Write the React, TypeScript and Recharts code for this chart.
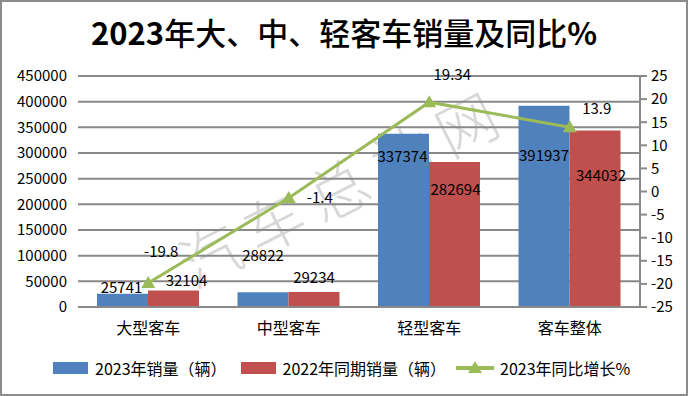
import React from "react";
import { ComposedChart, Bar, Line, XAxis, YAxis, CartesianGrid, Legend, LabelList } from "recharts";

const FONT = '"Noto Sans CJK SC", "Noto Sans", sans-serif';

const categories = ["大型客车", "中型客车", "轻型客车", "客车整体"];
const sales2023 = [25741, 28822, 337374, 391937];
const sales2022 = [32104, 29234, 282694, 344032];
const growthPct = [-19.8, -1.4, 19.34, 13.9];
const leftTicks = [0, 50000, 100000, 150000, 200000, 250000, 300000, 350000, 400000, 450000];
const rightTicks = [-25, -20, -15, -10, -5, 0, 5, 10, 15, 20, 25];
const seriesNames = ["2023年销量（辆）", "2022年同期销量（辆）", "2023年同比增长%"];

const BLUE = "#4F81BD";
const RED = "#C0504D";
const GREEN = "#9BBB59";
const GRID = "#898989";

// data labels were dragged around in the original, so nudge each one
const blueShift = [[-1, -6], [0, -36], [-1, 23], [0, 50]];
const redShift = [[13, -10], [0, -14], [1, 28], [6, 45]];
const lineShift = [[13, -31], [31, 0], [23, -27], [27, -19]];

const data = categories.map((name, i) => ({
  name,
  s2023: sales2023[i],
  s2022: sales2022[i],
  pct: growthPct[i],
}));

const makeLabel = (shift: number[][], isBar: boolean) => (props: any) => {
  const { x, y, width, value, index } = props;
  const [dx, dy] = shift[index] || [0, 0];
  const cx = Number(x) + (isBar ? Number(width) / 2 : 0) + dx;
  const cy = Number(y) + dy;
  return (
    <text x={cx} y={cy} dy="0.35em" textAnchor="middle" fontSize={15} fill="#000" fontFamily={FONT}>
      {value}
    </text>
  );
};

const Triangle = (props: any) => {
  const { cx, cy } = props;
  if (cx == null || cy == null) return null;
  return <polygon points={`${cx},${cy - 7} ${cx + 7},${cy + 5} ${cx - 7},${cy + 5}`} fill={GREEN} />;
};

const renderLegend = () => (
  <div style={{ display: "flex", alignItems: "center", height: 20, paddingLeft: 53, fontFamily: FONT, fontSize: 16, color: "#000" }}>
    <span style={{ width: 35, height: 12, background: BLUE, marginRight: 7 }} />
    <span style={{ marginRight: 14 }}>{seriesNames[0]}</span>
    <span style={{ width: 35, height: 12, background: RED, marginRight: 7 }} />
    <span style={{ marginRight: 10 }}>{seriesNames[1]}</span>
    <svg width={38} height={14} style={{ marginRight: 6 }}>
      <line x1={0} y1={7} x2={38} y2={7} stroke={GREEN} strokeWidth={4} />
      <polygon points="19,0 26,12 12,12" fill={GREEN} />
    </svg>
    <span>{seriesNames[2]}</span>
  </div>
);

export default function App() {
  return (
    <div style={{ position: "fixed", left: 0, top: 0, width: 688, height: 396, background: "#fff", overflow: "hidden" }}>
      <div
        style={{
          position: "absolute",
          left: 342,
          top: 184,
          transform: "translate(-50%, -50%) rotate(-27deg)",
          fontFamily: FONT,
          fontSize: 60,
          fontWeight: 300,
          letterSpacing: 12,
          color: "#d8d8d8",
          whiteSpace: "nowrap",
        }}
      >
        汽车总站网
      </div>
      <div
        style={{
          position: "absolute",
          left: 0,
          top: 12,
          width: 688,
          height: 40,
          lineHeight: "40px",
          textAlign: "center",
          fontFamily: FONT,
          fontSize: 31,
          fontWeight: 500,
          color: "#000",
          zIndex: 2,
        }}
      >
        <span style={{ fontWeight: 700 }}>2023</span>年大、中、轻客车销量及同比<span style={{ fontWeight: 700 }}>%</span>
      </div>
      <div style={{ position: "absolute", left: 0, top: 0, zIndex: 1 }}>
        <ComposedChart width={688} height={396} data={data} margin={{ top: 76, right: 0, left: 8, bottom: 59 }} barGap={0}>
          <CartesianGrid yAxisId="left" vertical={false} stroke={GRID} strokeWidth={2} />
          <XAxis
            dataKey="name"
            height={30}
            axisLine={{ stroke: GRID, strokeWidth: 2 }}
            tickLine={false}
            tickSize={6}
            tickMargin={10}
            tick={{ fontSize: 16, fill: "#000", fontFamily: FONT }}
          />
          <YAxis
            yAxisId="left"
            width={70}
            domain={[0, 450000]}
            ticks={leftTicks}
            interval={0}
            axisLine={false}
            tickLine={false}
            tickSize={6}
            tickMargin={5}
            tick={{ fontSize: 15, fill: "#000", fontFamily: FONT }}
          />
          <YAxis
            yAxisId="right"
            orientation="right"
            width={48}
            domain={[-25, 25]}
            ticks={rightTicks}
            interval={0}
            axisLine={{ stroke: GRID, strokeWidth: 2 }}
            tickLine={{ stroke: GRID, strokeWidth: 2 }}
            tickSize={7}
            tickMargin={4}
            tick={{ fontSize: 15, fill: "#000", fontFamily: FONT, textAnchor: "start" }}
          />
          <Bar yAxisId="left" dataKey="s2023" name={seriesNames[0]} fill={BLUE} barSize={51} isAnimationActive={false}>
            <LabelList dataKey="s2023" content={makeLabel(blueShift, true)} />
          </Bar>
          <Bar yAxisId="left" dataKey="s2022" name={seriesNames[1]} fill={RED} barSize={51} isAnimationActive={false}>
            <LabelList dataKey="s2022" content={makeLabel(redShift, true)} />
          </Bar>
          <Line
            yAxisId="right"
            type="linear"
            dataKey="pct"
            name={seriesNames[2]}
            stroke={GREEN}
            strokeWidth={3}
            dot={<Triangle />}
            activeDot={false}
            isAnimationActive={false}
          >
            <LabelList dataKey="pct" content={makeLabel(lineShift, false)} />
          </Line>
          <Legend
            layout="horizontal"
            verticalAlign="middle"
            align="center"
            wrapperStyle={{ top: 358, left: 0, width: 688, height: 20 }}
            content={renderLegend}
          />
        </ComposedChart>
      </div>
      <div
        style={{
          position: "absolute",
          left: 0,
          top: 0,
          width: 688,
          height: 396,
          boxSizing: "border-box",
          border: "2px solid #8c8c8c",
          pointerEvents: "none",
          zIndex: 3,
        }}
      />
    </div>
  );
}
